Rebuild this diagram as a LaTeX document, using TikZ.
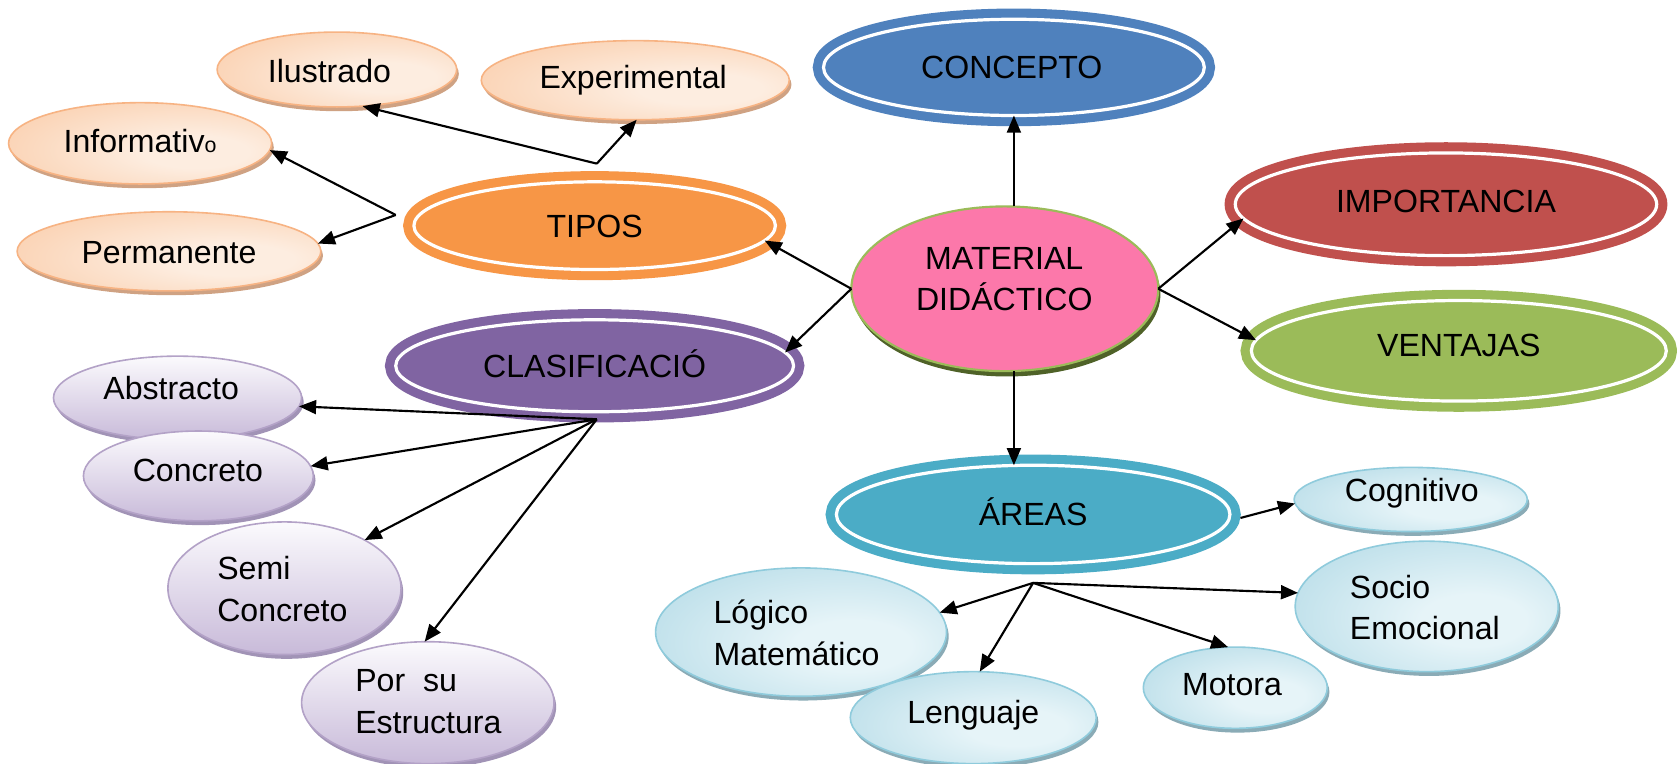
\documentclass[tikz,border=0pt]{standalone}
\usepackage{fontspec}
\setmainfont{Liberation Sans}
\usetikzlibrary{shapes.geometric,arrows.meta,shadows}

% main theme colours
\definecolor{cBlue}{HTML}{4F81BD}
\definecolor{cRed}{HTML}{C0504D}
\definecolor{cGreen}{HTML}{9BBB59}
\definecolor{cOrange}{HTML}{F79646}
\definecolor{cPurple}{HTML}{8064A2}
\definecolor{cTeal}{HTML}{4BACC6}
\definecolor{cPink}{HTML}{FC78AA}
\definecolor{cOlive}{HTML}{4F6228}
% peach leaves
\definecolor{pIn}{HTML}{FDEDE0}
\definecolor{pOut}{HTML}{F9C39A}
\definecolor{pLine}{HTML}{F7B383}
\definecolor{pShadow}{HTML}{CFA283}
% lilac leaves
\definecolor{lIn}{HTML}{FBFAFD}
\definecolor{lOut}{HTML}{C8BAD9}
\definecolor{lLine}{HTML}{B3A2C7}
\definecolor{lShadow}{HTML}{A193B6}
% aqua leaves
\definecolor{aIn}{HTML}{E6F4F8}
\definecolor{aOut}{HTML}{A1D1E0}
\definecolor{aLine}{HTML}{8FCBDC}
\definecolor{aShadow}{HTML}{8AABB6}

\pgfdeclareradialshading{peachshade}{\pgfpoint{12bp}{-6bp}}{color(0bp)=(pIn); color(10bp)=(pIn); color(50bp)=(pOut); color(90bp)=(pOut)}
\pgfdeclareradialshading{aquashade}{\pgfpoint{10bp}{-6bp}}{color(0bp)=(aIn); color(10bp)=(aIn); color(52bp)=(aOut); color(90bp)=(aOut)}

\tikzset{
  ring/.style={ellipse, inner sep=0pt, outer sep=0pt, fill=#1, draw=white,
    line width=3pt, preaction={draw=#1, line width=20pt}},
  hub/.style={ellipse, inner sep=0pt, outer sep=0pt, fill=cPink, draw=cGreen,
    line width=2pt, general shadow={fill=cOlive, shadow xshift=2pt, shadow yshift=-5pt}},
  peach/.style={ellipse, inner sep=0pt, outer sep=0pt, shading=peachshade,
    draw=pLine, line width=1.5pt, general shadow={fill=pShadow, shadow xshift=2pt, shadow yshift=-4pt}},
  lilac/.style={ellipse, inner sep=0pt, outer sep=0pt, top color=lIn, bottom color=lOut,
    draw=lLine, line width=1.5pt, general shadow={fill=lShadow, shadow xshift=2pt, shadow yshift=-4pt}},
  aqua/.style={ellipse, inner sep=0pt, outer sep=0pt, shading=aquashade,
    draw=aLine, line width=1.5pt, general shadow={fill=aShadow, shadow xshift=2pt, shadow yshift=-4pt}},
  lbl/.style={font=\fontsize{30}{39}\selectfont, inner sep=0pt, align=center},
  one/.style={lbl, text height=21.5pt, text depth=0pt},
  two/.style={lbl, align=left, anchor=west},
  arr/.style={-{Triangle[length=16pt,width=13pt]}, line width=2pt},
}

\begin{document}
\begin{tikzpicture}[x=1pt,y=-1pt]
\fill[white] (0,0) rectangle (1568,714);
\useasboundingbox (0,0) rectangle (1568,714);

% central hub
\node[hub, minimum width=287pt, minimum height=154pt] (md) at (939.5,270) {};
\node[lbl] (md-t) at (939,261) {MATERIAL\\DIDÁCTICO};

% main branches
\node[ring=cBlue,   minimum width=356pt, minimum height=90pt] (conc)  at (948,63)  {};
\node[ring=cRed,    minimum width=394pt, minimum height=96pt] (imp)   at (1352,191) {};
\node[ring=cGreen,  minimum width=388pt, minimum height=94pt] (ven)   at (1364,328) {};
\node[ring=cOrange, minimum width=338pt, minimum height=82pt] (tipos) at (556,211) {};
\node[ring=cPurple, minimum width=372pt, minimum height=86pt] (clas)  at (556,342) {};
\node[ring=cTeal,   minimum width=368pt, minimum height=92pt] (areas) at (966,481) {};

\node[one] (conc-t)  at (946,63)   {CONCEPTO};
\node[one] (imp-t)   at (1352,188) {IMPORTANCIA};
\node[one] (ven-t)   at (1364,323) {VENTAJAS};
\node[one] (tipos-t) at (556,211)  {TIPOS};
\node[one] (clas-t)  at (556,342)  {CLASIFICACIÓ};
\node[one] (areas-t) at (966,481)  {ÁREAS};

% TIPOS leaves
\node[peach, minimum width=224pt, minimum height=70pt] (ilu) at (315,65)  {};
\node[peach, minimum width=288pt, minimum height=74pt] (exp) at (594,75)  {};
\node[peach, minimum width=246pt, minimum height=76pt] (inf) at (131,134) {};
\node[peach, minimum width=284pt, minimum height=74pt] (per) at (158,235) {};
\node[one] (ilu-t) at (308,66)  {Ilustrado};
\node[one] (exp-t) at (592,72)  {Experimental};
\node[one] (inf-t) at (131,132) {Informativ{\fontsize{20}{20}\selectfont o}};
\node[one] (per-t) at (158,236) {Permanente};

% CLASIFICACIÓN leaves
\node[lilac, minimum width=232pt, minimum height=78pt]  (abs)  at (166,372) {};
\node[lilac, minimum width=215pt, minimum height=84pt]  (con)  at (185.5,445) {};
\node[lilac, minimum width=218pt, minimum height=124pt] (semi) at (266,550) {};
\node[lilac, minimum width=236pt, minimum height=114pt] (por)  at (400,657) {};
\node[one] (abs-t) at (160,363) {Abstracto};
\node[one] (con-t) at (185,439) {Concreto};
\node[two] (semi-t) at (203,551) {Semi\\Concreto};
\node[two] (por-t)  at (332,656) {Por\ \ su\\Estructura};

% ÁREAS leaves
\node[aqua, minimum width=218pt, minimum height=60pt]  (cog) at (1319,467) {};
\node[aqua, minimum width=246pt, minimum height=122pt] (soc) at (1334,567) {};
\node[aqua, minimum width=272pt, minimum height=120pt] (log) at (749,591) {};
\node[aqua, minimum width=230pt, minimum height=86pt]  (len) at (910,671) {};
\node[aqua, minimum width=172pt, minimum height=76pt]  (mot) at (1155,643) {};
\node[one] (cog-t) at (1320,458) {Cognitivo};
\node[two] (soc-t) at (1262,568) {Socio\\Emocional};
\node[two] (log-t) at (667,592)  {Lógico\\Matemático};
\node[one] (len-t) at (910,666)  {Lenguaje};
\node[one] (mot-t) at (1152,640) {Motora};

% branching points
\coordinate (tb1) at (558,153);
\coordinate (tb2) at (370,201);
\coordinate (cb)  at (558,392);
\coordinate (ab)  at (966,545);

% connectors from the hub
\draw[arr] (md.north -| conc.south) -- (conc.south);
\draw[arr] (md.west) -- (tipos.-5);
\draw[arr] (md.west) -- (clas.4);
\draw[arr] (md.east) -- (imp.184);
\draw[arr] (md.east) -- (ven.177);
\draw[arr] (md.south -| conc.south) -- (areas.north -| conc.south);

% TIPOS
\draw[arr] (tb1) -- (ilu.-55);
\draw[arr] (tb1) -- (exp.-88);
\draw[arr] (tb2) -- (inf.-3);
\draw[arr] (tb2) -- (per.3);

% CLASIFICACIÓN
\draw[arr] (cb) -- (abs.-4);
\draw[arr] (cb) -- (con.5);
\draw[arr] (cb) -- (semi.31);
\draw[arr] (cb) -- (por.93);

% ÁREAS
\draw[arr, shorten <=12pt] (areas.-2.5) -- (cog.182);
\draw[arr] (ab) -- (log.8);
\draw[arr] (ab) -- (len.82);
\draw[arr] (ab) -- (mot.100);
\draw[arr] (ab) -- (soc.174);
\end{tikzpicture}
\end{document}
